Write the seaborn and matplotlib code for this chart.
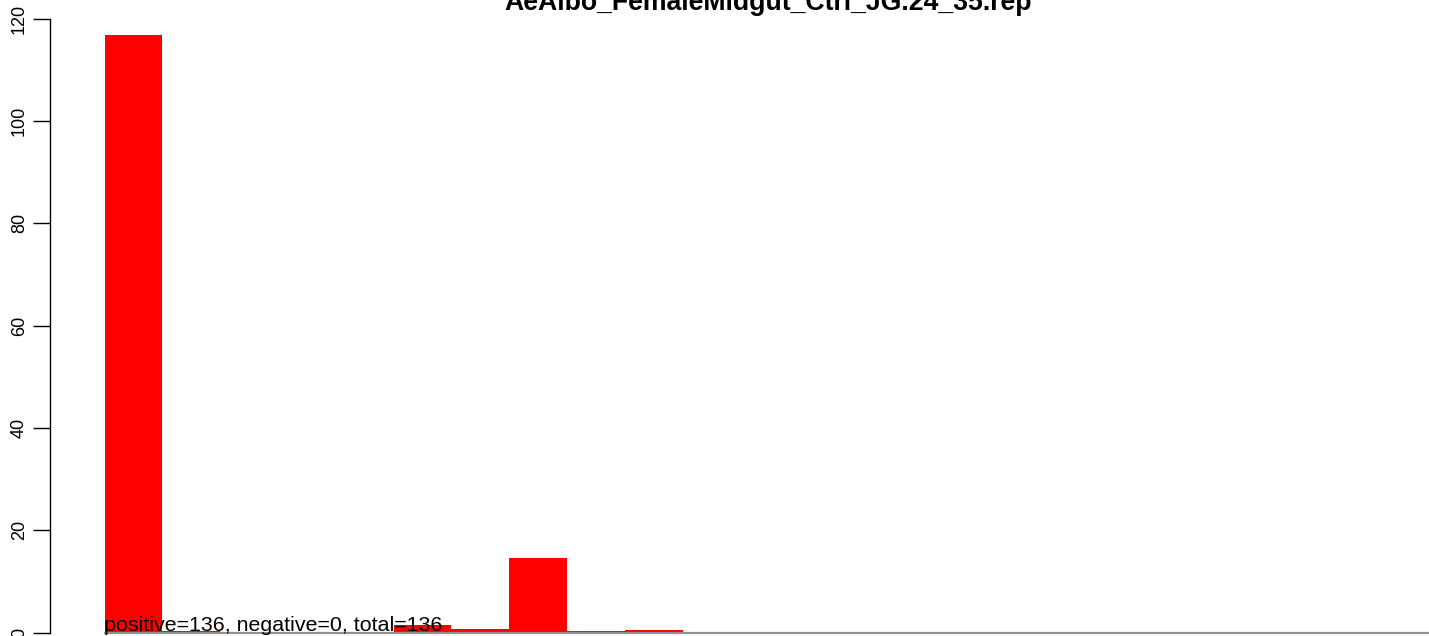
import matplotlib
matplotlib.use('Agg')
import matplotlib.pyplot as plt
import seaborn as sns
import pandas as pd

# Values
title = 'AeAlbo_FemaleMidgut_Ctrl_JG.24_35.rep'
bins = ['1', '2', '3', '4', '5', '6', '7', '8', '9', '10', '11', '12',
        '13', '14', '15', '16', '17', '18', '19', '20', '21', '22']
counts = [116.7, 0.2, 0, 0, 0, 1.4, 0.7, 14.6, 0.3, 0.5, 0, 0,
          0, 0, 0, 0, 0, 0, 0, 0, 0, 0]
yticks = [0, 20, 40, 60, 80, 100, 120]
note = 'positive=136, negative=0, total=136'

df = pd.DataFrame({'bin': bins, 'count': counts})

sns.set_style('white')
plt.rcParams['font.family'] = ['Liberation Sans', 'DejaVu Sans']

W, H = 1429, 636
fig = plt.figure(figsize=(W / 100, H / 100), dpi=100)
# axes: left edge at x=50px, y=0 at 632.5px, y=120 at 18.5px
ax = fig.add_axes([50 / W, (H - 632.5) / H, 1 - 50 / W, (632.5 - 18.5) / H])

sns.barplot(data=df, x='bin', y='count', color='#ff0000', saturation=1,
            width=1, linewidth=0, ax=ax, order=bins)

bw = 57.8  # bar width in px
x0 = -0.5 - (104.5 - 50) / bw
x1 = x0 + (W - 50) / bw
ax.set_xlim(x0, x1)
ax.set_ylim(0, 120)

ax.axhline(0, xmin=(-0.5 - x0) / (x1 - x0), xmax=1, color='#909090', lw=1.6,
           clip_on=False, zorder=3)

for s in ['top', 'right', 'bottom']:
    ax.spines[s].set_visible(False)
ax.spines['left'].set_bounds(0, 120)
ax.spines['left'].set_color('black')
ax.spines['left'].set_linewidth(1)

ax.set_yticks(yticks)
ax.set_yticklabels([str(t) for t in yticks], rotation=90, va='center',
                   fontsize=13, color='black')
ax.tick_params(axis='y', length=12, width=1, color='black', left=True,
               pad=4, labelcolor='black')
ax.set_xticks([])
ax.set_xlabel('')
ax.set_ylabel('')
for lab in ax.get_yticklabels():
    lab.set_clip_on(False)

ax.text(-0.5, 0.3, note, fontsize=15.4, color='black', ha='left',
        va='baseline', zorder=4)

fig.text(768 / W, 1 - 9.5 / H, title, fontsize=19.2, fontweight='bold',
         ha='center', va='baseline', color='black')

fig.savefig('out.png', dpi=100)
